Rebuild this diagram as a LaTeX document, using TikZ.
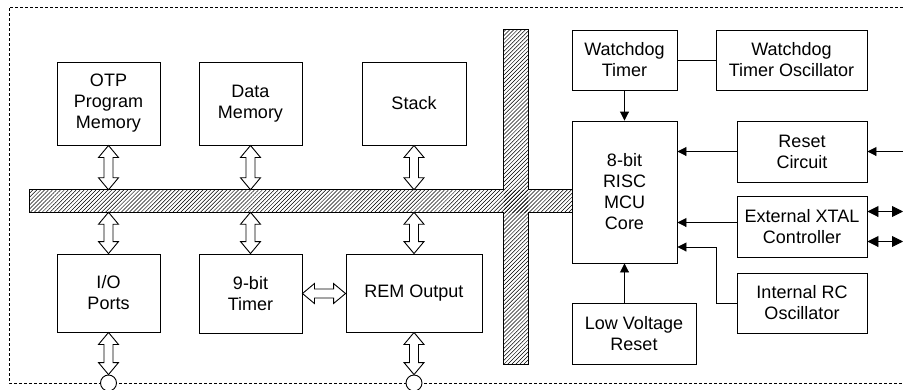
\documentclass[tikz,border=0pt]{standalone}
\usepackage{fontspec}
\setmainfont{Liberation Sans}
\usetikzlibrary{arrows.meta, patterns.meta, calc}
\tikzstyle{block} = [rectangle, draw=black, line width=0.9pt, align=center, inner sep=0pt, font=\fontsize{18}{21}\selectfont]
\tikzstyle{arrow} = [line width=0.9pt, -{Triangle[length=9pt,width=9pt]}]
\tikzstyle{twoway} = [line width=0.9pt, {Triangle[length=11pt,width=11pt]}-{Triangle[length=11pt,width=11pt]}]
\tikzstyle{busbar} = [rectangle, inner sep=0pt, pattern={Lines[angle=45,distance=2.8pt,line width=0.5pt]}]
\tikzstyle{port} = [circle, draw=black, fill=white, line width=0.9pt, minimum size=16pt, inner sep=0pt]
\tikzstyle{boundary} = [line width=0.8pt, dash pattern=on 3pt off 2pt]
\tikzstyle{vdbl} = [draw=black, fill=white, line width=0.9pt, to path={let \p1=(\tikztostart), \p2=(\tikztotarget) in
  (\x1,\y1) -- (\x1+10pt,\y1-12pt) -- (\x1+4.5pt,\y1-12pt) -- (\x1+4.5pt,\y2+12pt) -- (\x1+10pt,\y2+12pt) -- (\x1,\y2)
  -- (\x1-10pt,\y2+12pt) -- (\x1-4.5pt,\y2+12pt) -- (\x1-4.5pt,\y1-12pt) -- (\x1-10pt,\y1-12pt) -- cycle}]
\tikzstyle{hdbl} = [draw=black, fill=white, line width=0.9pt, to path={let \p1=(\tikztostart), \p2=(\tikztotarget) in
  (\x1,\y1) -- (\x1+12pt,\y1+10pt) -- (\x1+12pt,\y1+4.5pt) -- (\x2-12pt,\y1+4.5pt) -- (\x2-12pt,\y1+10pt) -- (\x2,\y1)
  -- (\x2-12pt,\y1-10pt) -- (\x2-12pt,\y1-4.5pt) -- (\x1+12pt,\y1-4.5pt) -- (\x1+12pt,\y1-10pt) -- cycle}]

\begin{document}
\begin{tikzpicture}[x=1pt, y=-1pt]
   \useasboundingbox (0,0) rectangle (903,389);
   % chip outline
   \draw [boundary] (903,7) -- (9,7) -- (9,383) -- (903,383);
   % internal bus
   \node (hbus) [busbar, minimum width=542pt, minimum height=22pt] at (301,201) {};
   \node (vbus) [busbar, minimum width=24pt, minimum height=334pt] at (516,197) {};
   \draw [line width=0.9pt] (hbus.south west) -- (hbus.north west) -- (vbus.west |- hbus.north) -- (vbus.north west)
      -- (vbus.north east) -- (vbus.east |- hbus.north) -- (hbus.north east) -- (hbus.south east)
      -- (vbus.east |- hbus.south) -- (vbus.south east) -- (vbus.south west) -- (vbus.west |- hbus.south) -- cycle;
   % blocks
   \node (otp) [block, minimum width=103pt, minimum height=83pt] at (108.5,103.5) {OTP\\Program\\Memory};
   \node (datamem) [block, minimum width=103pt, minimum height=83pt] at (250.5,103.5) {Data\\Memory};
   \node (stack) [block, minimum width=104pt, minimum height=83pt] at (414,103.5) {Stack};
   \node (io) [block, minimum width=103pt, minimum height=78pt] at (108.5,293) {I/O\\Ports};
   \node (timer) [block, minimum width=103pt, minimum height=79pt] at (250.5,293.5) {9-bit\\Timer};
   \node (rem) [block, minimum width=136pt, minimum height=78pt] at (414,293) {REM Output};
   \node (wdt) [block, minimum width=105pt, minimum height=60pt] at (624.5,60) {Watchdog\\Timer};
   \node (wdtosc) [block, minimum width=151pt, minimum height=60pt] at (791.5,60) {Watchdog\\Timer Oscillator};
   \node (core) [block, minimum width=105pt, minimum height=142pt] at (624.5,192) {8-bit\\RISC\\MCU\\Core};
   \node (reset) [block, minimum width=130pt, minimum height=61pt] at (802,151.5) {Reset\\Circuit};
   \node (xtal) [block, minimum width=130pt, minimum height=61pt] at (802,226.5) {External XTAL\\Controller};
   \node (rcosc) [block, minimum width=130pt, minimum height=60pt] at (802,303) {Internal RC\\Oscillator};
   \node (lvr) [block, minimum width=124pt, minimum height=61pt] at (634,333.5) {Low Voltage\\Reset};
   % pins
   \node (ioport) [port] at (108.5,383) {};
   \node (remport) [port] at (414,383) {};
   \coordinate (rstin) at (903,151.5);
   \coordinate (xtalin) at (903,211.5);
   \coordinate (xtalout) at (903,241.5);
   \coordinate (rcbend) at (716,247);
   % bus transfers
   \draw [vdbl] (otp.south) to (otp.south |- hbus.north);
   \draw [vdbl] (datamem.south) to (datamem.south |- hbus.north);
   \draw [vdbl] (stack.south) to (stack.south |- hbus.north);
   \draw [vdbl] (io.north |- hbus.south) to (io.north);
   \draw [vdbl] (timer.north |- hbus.south) to (timer.north);
   \draw [vdbl] (rem.north |- hbus.south) to (rem.north);
   \draw [vdbl] (io.south) to (ioport.north);
   \draw [vdbl] (rem.south) to (remport.north);
   \draw [hdbl] (timer.east) to (rem.west);
   % control signals
   \draw [line width=0.9pt] (wdt.east) -- (wdtosc.west);
   \draw [arrow] (wdt.south) -- (core.north);
   \draw [arrow] (rstin) -- (reset.east);
   \draw [arrow] (reset.west) -- (reset.west -| core.east);
   \draw [arrow] ([yshift=4pt]xtal.west) -- ([yshift=4pt]xtal.west -| core.east);
   \draw [arrow] (rcosc.west) -| (rcbend) -- (rcbend -| core.east);
   \draw [arrow] (core.south |- lvr.north) -- (core.south);
   \draw [twoway] (xtal.east |- xtalin) -- (xtalin);
   \draw [twoway] (xtal.east |- xtalout) -- (xtalout);
\end{tikzpicture}
\end{document}
